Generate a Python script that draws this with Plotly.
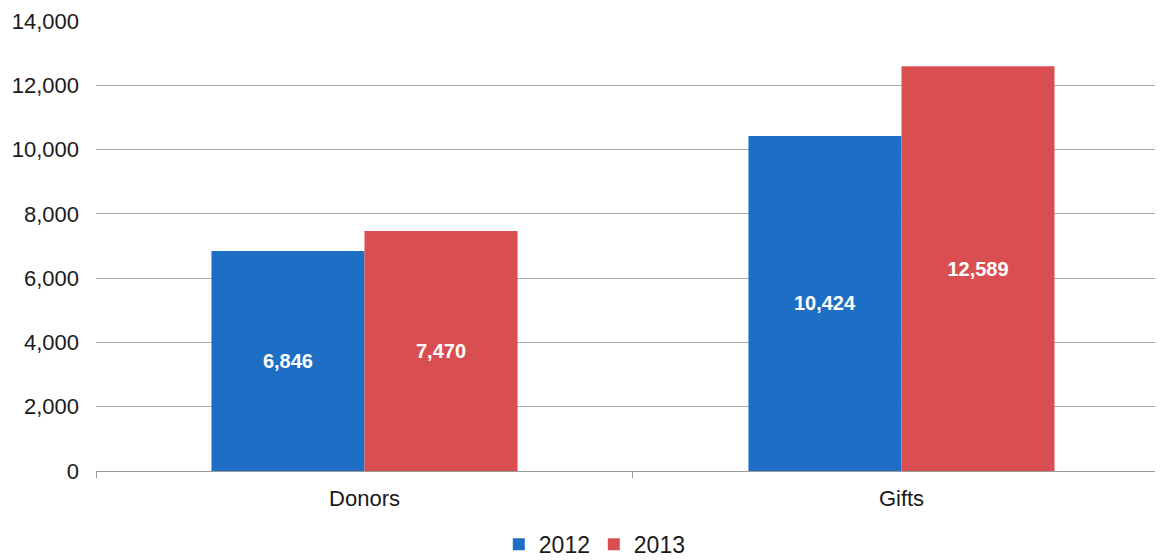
import plotly.graph_objects as go

categories = ["Donors", "Gifts"]
years = ["2012", "2013"]
values_2012 = [6846, 10424]
values_2013 = [7470, 12589]
colors = ["#1F6EC6", "#D94F51"]

fig = go.Figure()
for name, vals, col in zip(years, [values_2012, values_2013], colors):
    fig.add_trace(go.Bar(
        x=categories, y=vals, name=name, marker=dict(color=col, line=dict(width=0)),
        text=[f"{v:,}" for v in vals], textposition="inside", insidetextanchor="middle",
        textfont=dict(color="white", size=20, family="Liberation Sans, Arial", weight="bold"),
        textangle=0,
    ))

# page body has an 8px margin, so the figure is sized to fit the 1163x560 window
fig.update_layout(
    width=1155, height=552,
    margin=dict(l=88, r=0, t=13, b=89, autoexpand=False),
    paper_bgcolor="white", plot_bgcolor="white",
    barmode="group", bargap=0.43, bargroupgap=0,
    font=dict(family="Liberation Sans, Arial", size=22, color="#1a1a1a"),
    showlegend=True,
    legend=dict(orientation="h", x=0.3775, xanchor="left", y=-0.163, yanchor="middle",
                font=dict(size=23), traceorder="normal", entrywidth=50,
                entrywidthmode="pixels"),
    xaxis=dict(range=[-0.5, 1.487], showline=True, linecolor="#9a9a9a", linewidth=1,
               ticks="outside", tickson="boundaries", ticklen=6, tickcolor="#9a9a9a",
               showgrid=False, tickfont=dict(size=22), automargin=False,
               ticklabelstandoff=8),
    yaxis=dict(range=[0, 14000], dtick=2000, tickformat=",", showgrid=True,
               gridcolor="#a8a8a8", gridwidth=1, zeroline=False, showline=False,
               ticklabelstandoff=16, tickfont=dict(size=22), automargin=False),
)

fig.write_html("out.html")
